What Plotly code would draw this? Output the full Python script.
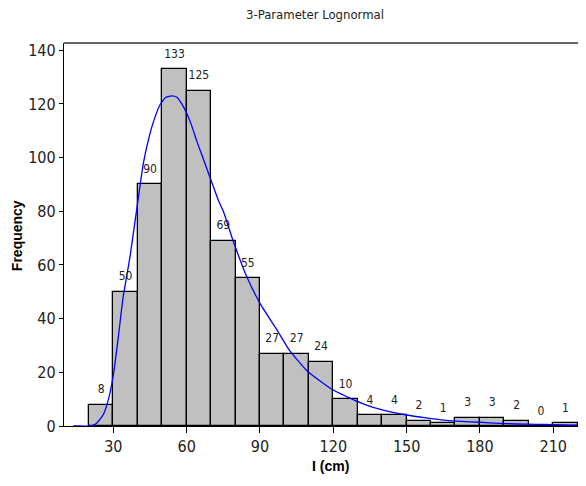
import plotly.graph_objects as go

# Histogram data (bin centers, width 10)
bin_centers = [25, 35, 45, 55, 65, 75, 85, 95, 105, 115, 125, 135, 145, 155, 165, 175, 185, 195, 205, 215]
counts = [8, 50, 90, 133, 125, 69, 55, 27, 27, 24, 10, 4, 4, 2, 1, 3, 3, 2, 0, 1]

# Fitted 3-parameter lognormal curve
curve_x = [13.5, 17, 20.5, 22.5, 24.5, 26, 28, 30, 32, 34, 36.8, 39.6, 42.3, 45, 47, 49, 51.5, 54, 56,
           58, 60, 62, 64, 66, 68, 70, 73, 75, 79, 84.6, 90, 97, 102, 109, 115, 120, 127, 133, 140,
           150, 158, 165, 172, 180, 188, 195, 203, 210, 217, 223]
curve_y = [0, 0, 0, 0.6, 2.5, 4.5, 10, 19, 33, 48, 63, 81, 98, 109, 115, 119.5, 122.5, 123, 122.5,
           120, 116.5, 112, 106.5, 101.5, 96.5, 91.5, 84, 80, 69, 55.6, 45.7, 35.7, 28.3, 20.8, 16.5,
           13.4, 10.3, 8, 6, 4.1, 3, 2.2, 1.7, 1.4, 1.0, 0.75, 0.6, 0.5, 0.35, 0.25]

x_ticks = [30, 60, 90, 120, 150, 180, 210]
y_ticks = [0, 20, 40, 60, 80, 100, 120, 140]

narrow = "DejaVu Sans Condensed, Liberation Sans Narrow, Arial Narrow, Liberation Sans, sans-serif"
bold = "Liberation Sans, Arial, sans-serif"

# target plot box in window pixels (page has 8px body offset)
L, R, T, B = 64, 585, 42.7, 426
OFF = 8
W, H = 586, 486

fig = go.Figure()
fig.add_trace(go.Bar(
    x=bin_centers, y=counts, width=[10] * len(counts),
    marker=dict(color="#C0C0C0", line=dict(color="black", width=1.3)),
    hoverinfo="skip", showlegend=False,
))
fig.add_trace(go.Scatter(
    x=curve_x, y=curve_y, mode="lines",
    line=dict(color="#0000FF", width=1.3, shape="spline", smoothing=0.5),
    showlegend=False, hoverinfo="skip",
))
fig.add_trace(go.Scatter(
    x=bin_centers, y=counts, mode="markers+text", text=[str(c) for c in counts],
    marker=dict(size=12, opacity=0),
    textposition="top center", textfont=dict(family=narrow, size=12, color="#222222"),
    showlegend=False, hoverinfo="skip", cliponaxis=False,
))

fig.update_layout(
    width=W, height=H,
    margin=dict(l=L - OFF, r=W + OFF - R, t=T - OFF, b=H + OFF - B, autoexpand=False),
    paper_bgcolor="white", plot_bgcolor="white",
    bargap=0,
)

def px_x(p):
    return (p - L) / (R - L)

def px_y(p):
    return (B - p) / (B - T)

fig.add_annotation(text="3-Parameter Lognormal", xref="paper", yref="paper",
                   x=px_x(315), y=px_y(14), showarrow=False,
                   font=dict(family=narrow, size=13, color="#222222"),
                   xanchor="center", yanchor="middle")
fig.add_annotation(text="<b>I (cm)</b>", xref="paper", yref="paper",
                   x=px_x(330), y=px_y(466), showarrow=False,
                   font=dict(family=bold, size=14, color="black"),
                   xanchor="center", yanchor="middle")
fig.add_annotation(text="<b>Frequency</b>", xref="paper", yref="paper",
                   x=px_x(17), y=px_y(236), showarrow=False, textangle=-90,
                   font=dict(family=bold, size=14, color="black"),
                   xanchor="center", yanchor="middle")

fig.update_xaxes(
    range=[9.8, 223], tickmode="array", tickvals=x_ticks, ticktext=[str(v) for v in x_ticks],
    showline=True, linecolor="black", linewidth=1.3, mirror=False,
    ticks="outside", ticklen=6, tickcolor="black", tickwidth=1,
    showgrid=False, zeroline=False, automargin=False,
    tickfont=dict(family=narrow, size=16, color="#222222"),
)
fig.update_yaxes(
    range=[0, 142.7], tickmode="array", tickvals=y_ticks, ticktext=[str(v) for v in y_ticks],
    showline=True, linecolor="black", linewidth=1.3,
    ticks="outside", ticklen=4, tickcolor="black", tickwidth=1,
    showgrid=False, zeroline=False, automargin=False,
    tickfont=dict(family=narrow, size=16, color="#222222"),
)
# top border line and right gray edge
fig.add_shape(type="line", xref="paper", yref="paper", x0=0, x1=1, y0=1, y1=1,
              line=dict(color="#333333", width=1.5))
fig.add_shape(type="line", xref="paper", yref="paper", x0=1, x1=1, y0=0, y1=1,
              line=dict(color="#999999", width=1))

fig.write_html("out.html")
